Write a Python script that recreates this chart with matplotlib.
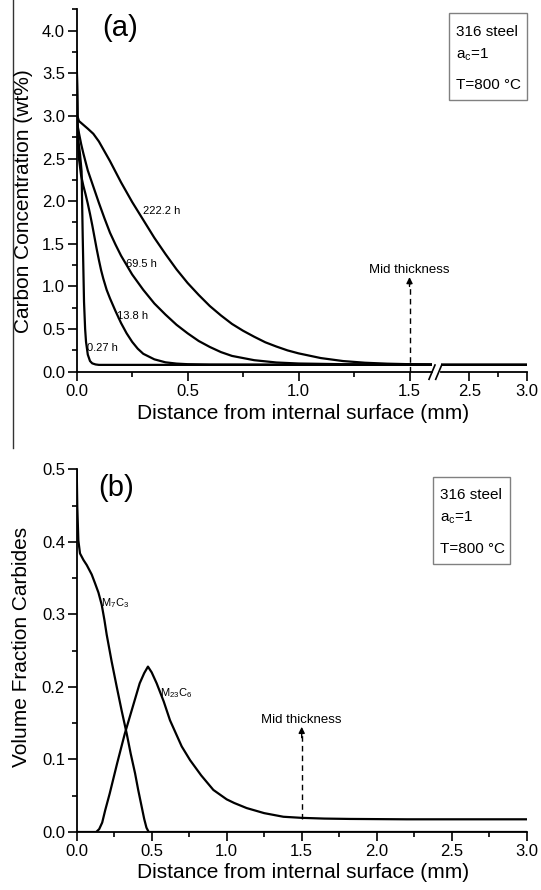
import matplotlib.pyplot as plt
from matplotlib.lines import Line2D
from matplotlib.patches import Rectangle
from matplotlib.ticker import MultipleLocator, FormatStrFormatter

plt.rcParams['font.family'] = ['Liberation Sans', 'DejaVu Sans']
plt.rcParams['mathtext.default'] = 'regular'

# ---- panel (a): carbon profiles (distance mm, wt%) ----
x_222 = [0, 0.003, 0.01, 0.05, 0.075, 0.1, 0.15, 0.2, 0.25, 0.3, 0.35, 0.4, 0.45, 0.5, 0.55, 0.6,
         0.65, 0.7, 0.75, 0.8, 0.85, 0.9, 0.95, 1.0, 1.1, 1.2, 1.3, 1.4, 1.5, 1.6, 2.25, 3.0]
c_222 = [3.75, 3.0, 2.94, 2.85, 2.79, 2.70, 2.47, 2.22, 1.99, 1.78, 1.57, 1.38, 1.20, 1.04, 0.90, 0.77,
         0.66, 0.56, 0.48, 0.41, 0.345, 0.295, 0.25, 0.215, 0.16, 0.125, 0.105, 0.094, 0.088, 0.085,
         0.08, 0.08]
x_695 = [0, 0.003, 0.01, 0.02, 0.03, 0.05, 0.075, 0.1, 0.125, 0.15, 0.175, 0.2, 0.25, 0.3, 0.35, 0.4,
         0.45, 0.5, 0.55, 0.6, 0.65, 0.7, 0.8, 0.9, 1.0, 1.2, 1.6, 2.25, 3.0]
c_695 = [3.75, 2.9, 2.8, 2.67, 2.56, 2.36, 2.17, 1.98, 1.80, 1.63, 1.49, 1.36, 1.14, 0.96, 0.80, 0.67,
         0.55, 0.45, 0.36, 0.29, 0.23, 0.185, 0.135, 0.108, 0.096, 0.088, 0.084, 0.08, 0.08]
x_138 = [0, 0.003, 0.01, 0.02, 0.03, 0.04, 0.05, 0.06, 0.07, 0.08, 0.09, 0.1, 0.11, 0.12, 0.135, 0.15,
         0.175, 0.2, 0.225, 0.25, 0.275, 0.3, 0.35, 0.4, 0.45, 0.5, 0.6, 1.6, 2.25, 3.0]
c_138 = [3.75, 2.8, 2.5, 2.3, 2.18, 2.08, 1.97, 1.85, 1.72, 1.58, 1.44, 1.31, 1.19, 1.09, 0.96, 0.86,
         0.71, 0.57, 0.45, 0.35, 0.27, 0.21, 0.145, 0.11, 0.095, 0.088, 0.084, 0.08, 0.08, 0.08]
x_027 = [0, 0.003, 0.008, 0.015, 0.022, 0.027, 0.033, 0.038, 0.042, 0.05, 0.06, 0.07, 0.085, 0.1,
         1.6, 2.25, 3.0]
c_027 = [3.75, 3.0, 2.7, 2.55, 2.35, 1.6, 0.82, 0.5, 0.35, 0.2, 0.125, 0.098, 0.085, 0.08,
         0.08, 0.08, 0.08]

curve_labels = ['222.2 h', '69.5 h', '13.8 h', '0.27 h']
label_pos = [(0.298, 1.88), (0.223, 1.26), (0.181, 0.65), (0.048, 0.28)]

# ---- panel (b): carbide volume fractions ----
x_m7 = [0, 0.004, 0.011, 0.022, 0.045, 0.067, 0.1, 0.122, 0.145, 0.167, 0.185, 0.2, 0.233, 0.267,
        0.3, 0.333, 0.36, 0.389, 0.41, 0.433, 0.45, 0.465, 0.48, 3.0]
f_m7 = [0.5, 0.448, 0.402, 0.384, 0.375, 0.368, 0.355, 0.343, 0.33, 0.313, 0.292, 0.272, 0.235, 0.2,
        0.167, 0.136, 0.108, 0.081, 0.058, 0.035, 0.018, 0.006, 0.0, 0.0]
x_m23 = [0, 0.13, 0.15, 0.17, 0.19, 0.22, 0.27, 0.32, 0.37, 0.42, 0.45, 0.475, 0.5, 0.533, 0.58, 0.622,
         0.7, 0.756, 0.83, 0.911, 1.0, 1.05, 1.133, 1.25, 1.378, 1.5, 1.65, 1.822, 2.2, 3.0]
f_m23 = [0, 0, 0.004, 0.013, 0.03, 0.053, 0.095, 0.135, 0.17, 0.205, 0.219, 0.228, 0.22, 0.205, 0.18,
         0.154, 0.118, 0.099, 0.078, 0.058, 0.045, 0.040, 0.033, 0.026, 0.021, 0.0195, 0.0185, 0.018,
         0.0175, 0.0175]

W, H = 541, 890


def fx(px):
    return px / W


def fy(py):
    return 1 - py / H


fig = plt.figure(figsize=(W / 100, H / 100), dpi=100)


def style(ax):
    ax.patch.set_visible(False)
    for s in ['top', 'right']:
        ax.spines[s].set_visible(False)
    for s in ['left', 'bottom']:
        ax.spines[s].set_linewidth(1.3)
    ax.tick_params(which='major', direction='out', length=6.5, width=1.2, labelsize=12, pad=2)
    ax.tick_params(which='minor', direction='out', length=3.5, width=1.2)


lw = 1.6

# (a) left segment and right segment of broken axis
ax1 = fig.add_axes([fx(76.7), fy(371.7), fx(431.7 - 76.7), (371.7 - 9.3) / H])
ax2 = fig.add_axes([fx(440.7), fy(371.7), fx(526.7 - 440.7), (371.7 - 9.3) / H])
for ax in (ax1, ax2):
    style(ax)
    for xs, ys in [(x_222, c_222), (x_695, c_695), (x_138, c_138), (x_027, c_027)]:
        ax.plot(xs, ys, color='black', lw=lw)
    ax.set_ylim(0, 4.25)
ax1.set_xlim(0, 1.6)
ax2.set_xlim(2.25, 3.0)
ax1.xaxis.set_major_locator(MultipleLocator(0.5))
ax1.xaxis.set_minor_locator(MultipleLocator(0.25))
ax1.yaxis.set_major_locator(MultipleLocator(0.5))
ax1.yaxis.set_minor_locator(MultipleLocator(0.25))
ax1.xaxis.set_major_formatter(FormatStrFormatter('%.1f'))
ax1.yaxis.set_major_formatter(FormatStrFormatter('%.1f'))
ax2.set_xticks([2.5, 3.0])
ax2.set_xticks([2.75], minor=True)
ax2.xaxis.set_major_formatter(FormatStrFormatter('%.1f'))
ax2.spines['left'].set_visible(False)
ax2.set_yticks([])

for lab, (lx, ly) in zip(curve_labels, label_pos):
    ax1.text(lx, ly, lab, fontsize=8, ha='left', va='center')

ax1.plot([1.5, 1.5], [0, 1.03], color='black', lw=1, ls=(0, (4, 3)))
ax1.annotate('', xy=(1.5, 1.11), xytext=(1.5, 1.0),
             arrowprops=dict(arrowstyle='-|>', color='black', lw=1, mutation_scale=9,
                             shrinkA=0, shrinkB=0))
ax1.text(1.5, 1.19, 'Mid thickness', fontsize=9.5, ha='center', va='center', clip_on=False)

# break marks
for x0 in (429.0, 435.7):
    fig.add_artist(Line2D([fx(x0), fx(x0 + 6)], [fy(379.3), fy(365)], color='black', lw=1.2))

fig.text(fx(120), fy(28), '(a)', fontsize=21, ha='center', va='center')
fig.text(fx(24), fy(201.5), 'Carbon Concentration (wt%)', fontsize=15, rotation=90,
         ha='center', va='center')
fig.text(fx(303.5), fy(413), 'Distance from internal surface (mm)', fontsize=15,
         ha='center', va='center')

# (b)
ax3 = fig.add_axes([fx(76.7), fy(832), fx(450), (832 - 469.3) / H])
style(ax3)
ax3.plot(x_m7, f_m7, color='black', lw=lw)
ax3.plot(x_m23, f_m23, color='black', lw=lw)
ax3.set_xlim(0, 3.0)
ax3.set_ylim(0, 0.5)
ax3.xaxis.set_major_locator(MultipleLocator(0.5))
ax3.xaxis.set_minor_locator(MultipleLocator(0.25))
ax3.yaxis.set_major_locator(MultipleLocator(0.1))
ax3.yaxis.set_minor_locator(MultipleLocator(0.05))
ax3.xaxis.set_major_formatter(FormatStrFormatter('%.1f'))
ax3.yaxis.set_major_formatter(FormatStrFormatter('%.1f'))

ax3.text(0.16, 0.316, 'M$_{7}$C$_{3}$', fontsize=8, ha='left', va='center')
ax3.text(0.555, 0.192, 'M$_{23}$C$_{6}$', fontsize=8, ha='left', va='center')

ax3.plot([1.5, 1.5], [0.018, 0.136], color='black', lw=1, ls=(0, (4, 3)))
ax3.annotate('', xy=(1.5, 0.145), xytext=(1.5, 0.13),
             arrowprops=dict(arrowstyle='-|>', color='black', lw=1, mutation_scale=9,
                             shrinkA=0, shrinkB=0))
ax3.text(1.5, 0.155, 'Mid thickness', fontsize=9.5, ha='center', va='center')

fig.text(fx(116), fy(488), '(b)', fontsize=21, ha='center', va='center')
fig.text(fx(22), fy(647), 'Volume Fraction Carbides', fontsize=15, rotation=90,
         ha='center', va='center')
fig.text(fx(303.5), fy(872), 'Distance from internal surface (mm)', fontsize=15,
         ha='center', va='center')

# info boxes
for (bx0, by0, bx1, by1, ys) in [(449, 12.7, 527, 100, (31.7, 55, 85)),
                                 (432.7, 476.7, 510, 564, (495, 518, 549))]:
    fig.add_artist(Rectangle((fx(bx0), fy(by1)), fx(bx1 - bx0), (by1 - by0) / H,
                             fill=False, edgecolor='#808080', lw=1, transform=fig.transFigure))
    tx = fx(bx0 + 7)
    fig.text(tx, fy(ys[0]), '316 steel', fontsize=11, ha='left', va='center')
    fig.text(tx, fy(ys[1]), 'a$_{c}$=1', fontsize=11, ha='left', va='center')
    fig.text(tx, fy(ys[2]), 'T=800 °C', fontsize=11, ha='left', va='center')

# left border line left over from the source figure
fig.add_artist(Line2D([fx(13), fx(13)], [1, fy(448)], color='#333333', lw=1))

fig.savefig('out.png', dpi=100)
